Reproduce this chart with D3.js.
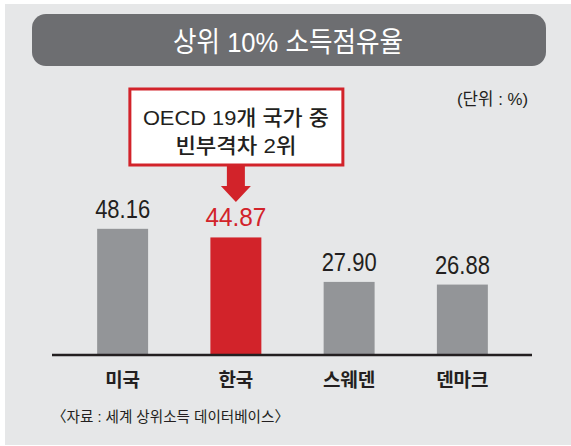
<!DOCTYPE html>
<html>
<head>
<meta charset="utf-8">
<script src="https://cdn.jsdelivr.net/npm/d3@7"></script>
<style>
  body { margin: 0; background: #fff; }
  text { font-family: "Liberation Sans", "Noto Sans CJK KR", sans-serif; }
</style>
</head>
<body>
<div id="chart"></div>
<script>
var countries = ["미국", "한국", "스웨덴", "덴마크"];
var shares = [48.16, 44.87, 27.90, 26.88];
var highlight = "한국";
var titleText = "상위 10% 소득점유율";
var unitText = "(단위 : %)";
var noteLines = ["OECD 19개 국가 중", "빈부격차 2위"];
var sourceText = "〈자료 : 세계 상위소득 데이터베이스〉";

function init() {
    var w = 571, h = 446;
    var red = "#d2232a", grey = "#939598", ink = "#231f20";

    var svg = d3.select("#chart").append("svg")
        .attr("width", w)
        .attr("height", h);

    svg.append("rect")
        .attr("x", 5).attr("y", 4)
        .attr("width", 566).attr("height", 441)
        .attr("fill", "#e6e7e8");

    // title pill
    svg.append("rect")
        .attr("x", 32).attr("y", 14)
        .attr("width", 514).attr("height", 52)
        .attr("rx", 14)
        .attr("fill", "#6d6e71");
    svg.append("text")
        .attr("x", 288).attr("y", 52)
        .attr("text-anchor", "middle")
        .attr("fill", "#fff")
        .attr("font-size", 28)
        .attr("textLength", 230)
        .attr("lengthAdjust", "spacingAndGlyphs")
        .text(titleText);

    svg.append("text")
        .attr("x", 528).attr("y", 105)
        .attr("text-anchor", "end")
        .attr("fill", ink)
        .attr("font-size", 17)
        .attr("textLength", 71)
        .attr("lengthAdjust", "spacingAndGlyphs")
        .text(unitText);

    var x = d3.scaleBand()
        .domain(countries)
        .range([66, 519])
        .paddingInner(0.55)
        .paddingOuter(0.275);

    var base = 355;
    var y = d3.scaleLinear()
        .domain([0, 50])
        .range([base, base - 131]);

    var data = countries.map(function(c, i) { return { name: c, value: shares[i] }; });

    svg.selectAll("rect.bar")
        .data(data)
        .enter()
        .append("rect")
        .attr("class", "bar")
        .attr("x", function(d) { return x(d.name); })
        .attr("y", function(d) { return y(d.value); })
        .attr("width", x.bandwidth())
        .attr("height", function(d) { return y(0) - y(d.value); })
        .attr("fill", function(d) { return d.name == highlight ? red : grey; });

    svg.selectAll("text.val")
        .data(data)
        .enter()
        .append("text")
        .attr("class", "val")
        .attr("x", function(d) { return x(d.name) + x.bandwidth() / 2; })
        .attr("y", function(d) { return y(d.value) - 11; })
        .attr("text-anchor", "middle")
        .attr("font-size", 25)
        .attr("textLength", function(d) { return d.name == highlight ? 61 : 55; })
        .attr("lengthAdjust", "spacingAndGlyphs")
        .attr("fill", function(d) { return d.name == highlight ? red : ink; })
        .text(function(d) { return d.value.toFixed(2); });

    // baseline
    svg.append("line")
        .attr("x1", 52).attr("x2", 532)
        .attr("y1", base).attr("y2", base)
        .attr("stroke", ink)
        .attr("stroke-width", 2.5);

    svg.selectAll("text.cat")
        .data(countries)
        .enter()
        .append("text")
        .attr("class", "cat")
        .attr("x", function(d) { return x(d) + x.bandwidth() / 2; })
        .attr("y", 387)
        .attr("text-anchor", "middle")
        .attr("font-size", 19)
        .attr("font-weight", "bold")
        .attr("fill", ink)
        .text(function(d) { return d; });

    // callout box + arrow over Korea
    var cx = x(highlight) + x.bandwidth() / 2;
    svg.append("rect")
        .attr("x", cx - 106).attr("y", 89)
        .attr("width", 213).attr("height", 76)
        .attr("fill", "#fff")
        .attr("stroke", red)
        .attr("stroke-width", 3);
    svg.selectAll("text.note")
        .data(noteLines)
        .enter()
        .append("text")
        .attr("class", "note")
        .attr("x", cx)
        .attr("y", function(d, i) { return 125 + i * 28; })
        .attr("text-anchor", "middle")
        .attr("font-size", 21)
        .attr("font-weight", 500)
        .attr("fill", ink)
        .attr("textLength", function(d, i) { return i == 0 ? 186 : 121; })
        .attr("lengthAdjust", "spacingAndGlyphs")
        .text(function(d) { return d; });
    svg.append("path")
        .attr("d", "M" + (cx - 9) + ",166 L" + (cx + 9) + ",166 L" + (cx + 9) + ",186 L" + (cx + 15) + ",186 L" + cx + ",202 L" + (cx - 15) + ",186 L" + (cx - 9) + ",186 Z")
        .attr("fill", red);

    svg.append("text")
        .attr("x", 52).attr("y", 422)
        .attr("fill", ink)
        .attr("font-size", 15)
        .attr("textLength", 237)
        .attr("lengthAdjust", "spacingAndGlyphs")
        .text(sourceText);
}

window.onload = init;
</script>
</body>
</html>
